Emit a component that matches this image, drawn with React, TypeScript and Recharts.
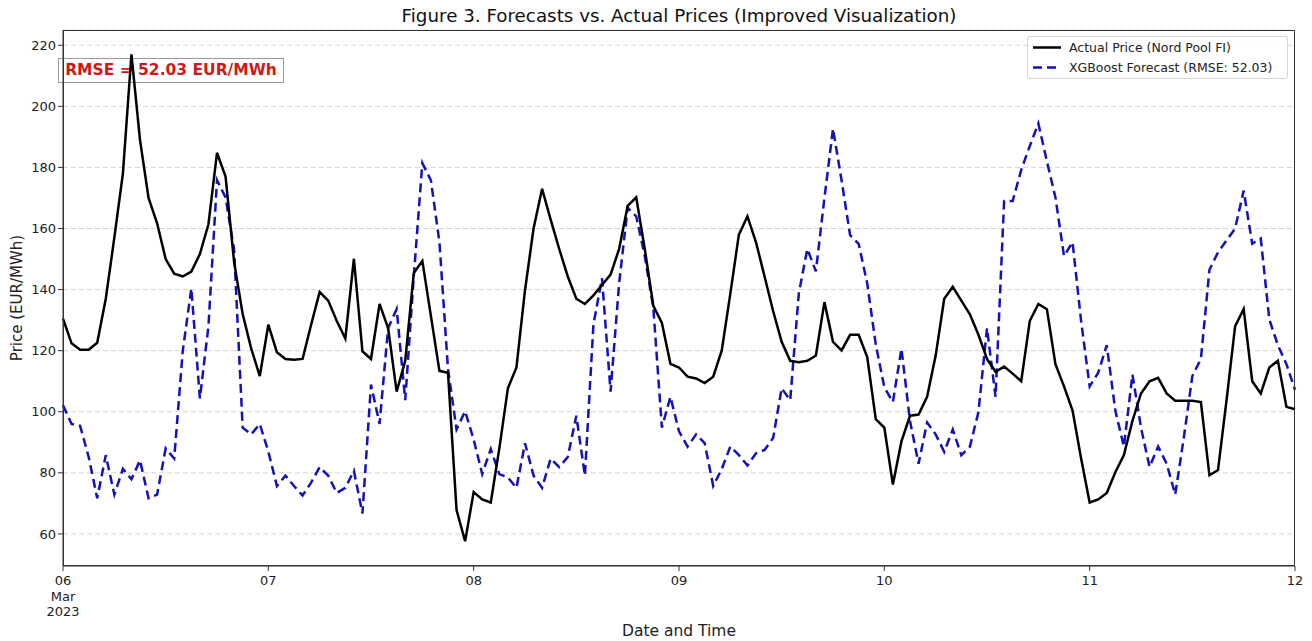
import React from "react";
import { LineChart, Line, XAxis, YAxis, CartesianGrid } from "recharts";

const dayLabels = ["06", "07", "08", "09", "10", "11", "12"];
const firstTickExtra = ["Mar", "2023"];
const yTicks = [60, 80, 100, 120, 140, 160, 180, 200, 220];

const actualPrice = [
  130.5, 122.4, 120.3, 120.3, 122.6, 137, 157, 178, 217, 189, 170, 161.7, 150, 145.2, 144.3, 145.9, 151.6, 161.4, 184.8, 177, 149, 132, 120.7, 111.7,
  128.5, 119.5, 117.3, 117, 117.3, 128.5, 139.2, 136.4, 129.7, 124, 150.1, 119.8, 117.3, 135.3, 127.4, 106.6, 116.7, 145.4, 149.4, 131.4, 113.4, 112.8, 67.8, 57.6,
  73.7, 71.3, 70.3, 88, 107.7, 114.5, 139.8, 160, 173, 162.9, 153.3, 144.3, 137, 135.3, 138.1, 141.5, 144.9, 153.3, 167.4, 170.2, 153.3, 134.7, 129.1, 115.7,
  114.5, 111.5, 110.9, 109.4, 111.5, 120.1, 138.7, 158, 164, 155.5, 144.3, 133, 122.9, 116.7, 116.2, 116.7, 118.4, 135.9, 122.9, 120.1, 125.2, 125.2, 117.9, 97.6,
  94.8, 76.2, 90.3, 98.7, 99.1, 104.9, 118.4, 137, 140.9, 136.4, 131.9, 125.2, 117.3, 113.1, 114.8, 112.5, 110, 129.7, 135.3, 133.6, 115.6, 108.3, 100.4, 84.7,
  70.3, 71.3, 73.4, 80.2, 85.8, 97, 106, 110, 111.1, 106, 103.6, 103.6, 103.6, 103.2, 79.2, 80.9, 103.8, 128, 133.6, 110, 106, 114.5, 116.7, 101.6, 100.8,
];

const xgbForecast = [
  102.1, 96, 95.4, 85.2, 71.7, 85.8, 72.9, 81.3, 77.9, 84.1, 71.7, 72.9, 88, 84.7, 120, 140.4, 104.4, 128, 175.8, 170.2, 153, 94.8, 92.6, 96,
  87, 75.7, 79.1, 75.7, 72.6, 76.8, 81.9, 79.1, 73.4, 75.1, 80.7, 66.7, 108.9, 96, 127.4, 133.6, 103.8, 144.3, 181.4, 175.8, 155.5, 114, 94.2, 100.2,
  90.9, 79.6, 87.8, 79.6, 78.5, 75.1, 89.7, 79.1, 75.1, 84.7, 81.9, 85.2, 98.7, 79.1, 128.6, 143.7, 106.6, 142, 166.8, 164, 151, 134, 94.8, 104.9,
  93.6, 88.6, 92.6, 89.7, 75.7, 81.3, 88.6, 85.8, 82.4, 86.4, 87.5, 91.4, 107.7, 103.8, 138.7, 153.3, 146, 170, 192.7, 175.8, 157.8, 155, 142, 122,
  108, 103.2, 120.7, 97, 83, 96.5, 92.6, 86.9, 94.2, 85.8, 88.6, 99.9, 127.4, 104.9, 169, 169, 179.2, 187, 194.4, 182, 170.2, 151, 155.5, 129.7,
  108.3, 112.8, 121.8, 100.4, 88.6, 112.2, 94.8, 81.9, 88.6, 83, 72.9, 91.4, 111.7, 117.3, 146.5, 152.2, 156.1, 160, 172.4, 155, 156.7, 130.2, 121.8, 115.6, 107.2,
];

const data = actualPrice.map((v, i) => ({ t: i, actual: v, forecast: xgbForecast[i] }));
const xTicks = dayLabels.map((_, i) => i * 24);

const FONT = "'DejaVu Sans', sans-serif";
const BLUE = "#1212b8";

const XTick = (props: any) => {
  const { x, y, payload } = props;
  const idx = Math.round(payload.value / 24);
  const lines = idx === 0 ? [dayLabels[0], ...firstTickExtra] : [dayLabels[idx]];
  return (
    <g>
      <line x1={x} x2={x} y1={y - 8} y2={y - 3} stroke="#333" strokeWidth={1} />
      <text x={x} y={y + 11} textAnchor="middle" fontFamily={FONT} fontSize={13} fill="#222">
        {lines.map((l, k) => (
          <tspan key={k} x={x} dy={k === 0 ? 0 : 15.5}>
            {l}
          </tspan>
        ))}
      </text>
    </g>
  );
};

export default function App() {
  return (
    <div style={{ position: "relative", width: 1304, height: 633, fontFamily: FONT }}>
      {/* RMSE box (behind the lines, like the reference) */}
      <div
        style={{
          position: "absolute",
          left: 50,
          top: 50,
          width: 226,
          height: 25,
          border: "1.5px solid #999",
          boxSizing: "border-box",
          background: "rgba(255,255,255,0.85)",
          color: "#cc1a1a",
          fontWeight: "bold",
          fontSize: 15.5,
          lineHeight: "22px",
          textAlign: "center",
          whiteSpace: "nowrap",
        }}
      >
        RMSE = 52.03 EUR/MWh
      </div>

      <LineChart
        width={1304}
        height={633}
        data={data}
        margin={{ top: 22, right: 17, bottom: 0, left: 0 }}
      >
        <CartesianGrid vertical={false} stroke="#d4d4d4" strokeDasharray="5 3" />
        <XAxis
          dataKey="t"
          type="number"
          domain={[0, 144]}
          ticks={xTicks}
          interval={0}
          height={75}
          stroke="#333"
          tickLine={false}
          tick={<XTick />}
        />
        <YAxis
          type="number"
          domain={[49.5, 225]}
          ticks={yTicks}
          interval={0}
          width={55}
          stroke="#333"
          tickSize={5}
          tick={{ fontFamily: FONT, fontSize: 13, fill: "#222" }}
        />
        <Line
          type="linear"
          dataKey="forecast"
          stroke={BLUE}
          strokeWidth={2.5}
          strokeDasharray="9 5"
          dot={false}
          isAnimationActive={false}
        />
        <Line
          type="linear"
          dataKey="actual"
          stroke="#000"
          strokeWidth={2.5}
          dot={false}
          isAnimationActive={false}
        />
      </LineChart>

      {/* plot frame */}
      <div
        style={{
          position: "absolute",
          left: 55,
          top: 22,
          width: 1232,
          height: 536,
          border: "1px solid #333",
          boxSizing: "border-box",
          pointerEvents: "none",
        }}
      />

      {/* title */}
      <div
        style={{
          position: "absolute",
          left: 671,
          top: 7,
          transform: "translate(-50%, -50%)",
          fontSize: 18.3,
          color: "#111",
          whiteSpace: "nowrap",
        }}
      >
        Figure 3. Forecasts vs. Actual Prices (Improved Visualization)
      </div>

      {/* y label */}
      <div
        style={{
          position: "absolute",
          left: 9,
          top: 290,
          transform: "translate(-50%, -50%) rotate(-90deg)",
          fontSize: 15,
          color: "#222",
          whiteSpace: "nowrap",
        }}
      >
        Price (EUR/MWh)
      </div>

      {/* x label */}
      <div
        style={{
          position: "absolute",
          left: 671,
          top: 623,
          transform: "translate(-50%, -50%)",
          fontSize: 15.5,
          color: "#222",
          whiteSpace: "nowrap",
        }}
      >
        Date and Time
      </div>

      {/* legend */}
      <div
        style={{
          position: "absolute",
          left: 1019,
          top: 28,
          width: 261,
          height: 43,
          border: "1px solid #d6d6d6",
          borderRadius: 3,
          background: "rgba(255,255,255,0.85)",
          boxSizing: "border-box",
          fontSize: 12.5,
          color: "#222",
        }}
      >
        <svg width={40} height={43} style={{ position: "absolute", left: 0, top: 0 }}>
          <line x1={5} x2={33} y1={10.5} y2={10.5} stroke="#000" strokeWidth={2.5} />
          <line x1={5} x2={33} y1={30.5} y2={30.5} stroke={BLUE} strokeWidth={2.5} strokeDasharray="9 5" />
        </svg>
        <div style={{ position: "absolute", left: 41, top: 2, whiteSpace: "nowrap", lineHeight: "17px" }}>
          Actual Price (Nord Pool FI)
        </div>
        <div style={{ position: "absolute", left: 41, top: 22, whiteSpace: "nowrap", lineHeight: "17px" }}>
          XGBoost Forecast (RMSE: 52.03)
        </div>
      </div>
    </div>
  );
}
